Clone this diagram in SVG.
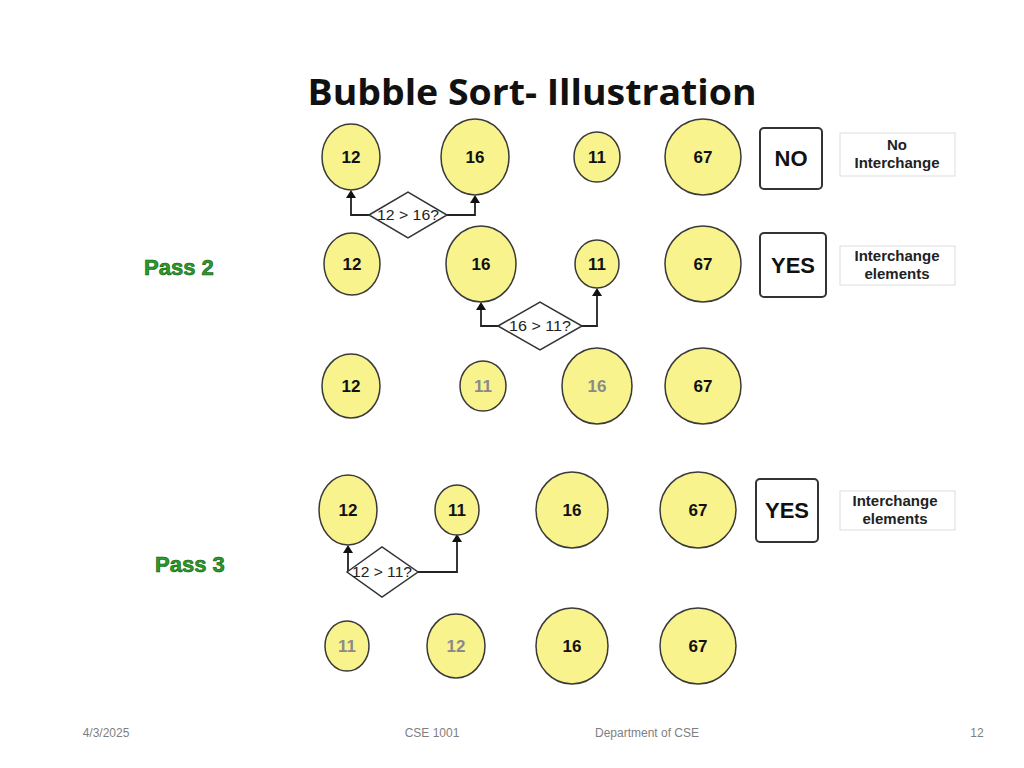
<svg xmlns="http://www.w3.org/2000/svg" width="1024" height="768" viewBox="0 0 1024 768">
<style>
.n ellipse{fill:#f8f38d;stroke:#3a3a3a;stroke-width:1.5}
.n text{font-family:"Liberation Sans",Arial,sans-serif;font-weight:bold;font-size:17px;text-anchor:middle;fill:#111}
.g text{fill:#8a8a8a}
.d polygon{fill:#fff;stroke:#333;stroke-width:1.5}
.d text{font-family:"Liberation Sans",Arial,sans-serif;font-size:15px;text-anchor:middle;fill:#222}
.b rect{fill:#fff;stroke:#333;stroke-width:2}
.b text{font-family:"Liberation Sans",Arial,sans-serif;font-weight:bold;font-size:22px;text-anchor:middle;fill:#111}
.l rect{fill:#fff;stroke:#ddd;stroke-width:1}
.l text{font-family:"Liberation Sans",Arial,sans-serif;font-weight:bold;font-size:15px;text-anchor:middle;fill:#222}
.p{font-family:"Liberation Sans",Arial,sans-serif;font-weight:bold;font-size:22px;fill:#2a9a2a;stroke:#0b5a0b;stroke-width:0.6}
.f{font-family:"Liberation Sans",Arial,sans-serif;font-size:12px;fill:#7f7f7f;text-anchor:middle}
#connectors path{fill:none;stroke:#222;stroke-width:1.8;marker-end:url(#ah)}
</style>
<defs><marker id="ah" markerWidth="8" markerHeight="10" refX="6" refY="5" orient="auto" markerUnits="userSpaceOnUse"><path d="M0,0 L8,5 L0,10 z" fill="#111"/></marker></defs>
<rect width="1024" height="768" fill="#fff"/>
<text x="532" y="105" text-anchor="middle" font-family="'Open Sans','Liberation Sans',sans-serif" font-weight="bold" font-size="36" textLength="449" lengthAdjust="spacingAndGlyphs" fill="#111">Bubble Sort- Illustration</text>
<text class="p" x="144" y="275">Pass 2</text>
<text class="p" x="155" y="572">Pass 3</text>

<g id="connectors">
<path d="M369,215 H351 V192"/><path d="M447,215 H475 V197"/>
<path d="M498,326 H481 V304"/><path d="M582,326 H597 V290"/>
<path d="M347,572 H348 V547"/><path d="M418,572 H457 V536"/>
</g>

<g id="r1a" class="n"><ellipse cx="351" cy="157" rx="29" ry="33"/><text x="351" y="163">12</text></g>
<g id="r1b" class="n"><ellipse cx="475" cy="157" rx="34" ry="38"/><text x="475" y="163">16</text></g>
<g id="r1c" class="n"><ellipse cx="597" cy="157" rx="23" ry="25"/><text x="597" y="163">11</text></g>
<g id="r1d" class="n"><ellipse cx="703" cy="157" rx="38" ry="38"/><text x="703" y="163">67</text></g>
<g id="no" class="b"><rect x="760" y="128" width="62" height="61" rx="4"/><text x="791" y="166">NO</text></g>
<g id="lab1" class="l"><rect x="840" y="133" width="115" height="43"/><text x="897" y="150">No</text><text x="897" y="168">Interchange</text></g>
<g id="d1" class="d"><polygon points="369,215 408,192 447,215 408,238"/><text x="408" y="220" textLength="62" lengthAdjust="spacingAndGlyphs">12 &gt; 16?</text></g>

<g id="r2a" class="n"><ellipse cx="352" cy="264" rx="28" ry="31"/><text x="352" y="270">12</text></g>
<g id="r2b" class="n"><ellipse cx="481" cy="264" rx="35" ry="38"/><text x="481" y="270">16</text></g>
<g id="r2c" class="n"><ellipse cx="597" cy="264" rx="22" ry="24"/><text x="597" y="270">11</text></g>
<g id="r2d" class="n"><ellipse cx="703" cy="264" rx="38" ry="38"/><text x="703" y="270">67</text></g>
<g id="yes1" class="b"><rect x="760" y="233" width="66" height="64" rx="4"/><text x="793" y="273">YES</text></g>
<g id="lab2" class="l"><rect x="840" y="246" width="115" height="39"/><text x="897" y="261">Interchange</text><text x="897" y="279">elements</text></g>
<g id="d2" class="d"><polygon points="498,326 540,302 582,326 540,350"/><text x="540" y="331" textLength="62" lengthAdjust="spacingAndGlyphs">16 &gt; 11?</text></g>

<g id="r3a" class="n"><ellipse cx="351" cy="386" rx="29" ry="32"/><text x="351" y="392">12</text></g>
<g id="r3b" class="n g"><ellipse cx="483" cy="386" rx="23" ry="25"/><text x="483" y="392">11</text></g>
<g id="r3c" class="n g"><ellipse cx="597" cy="386" rx="35" ry="38"/><text x="597" y="392">16</text></g>
<g id="r3d" class="n"><ellipse cx="703" cy="386" rx="38" ry="38"/><text x="703" y="392">67</text></g>

<g id="r4a" class="n"><ellipse cx="348" cy="510" rx="29" ry="35"/><text x="348" y="516">12</text></g>
<g id="r4b" class="n"><ellipse cx="457" cy="510" rx="22" ry="25"/><text x="457" y="516">11</text></g>
<g id="r4c" class="n"><ellipse cx="572" cy="510" rx="36" ry="38"/><text x="572" y="516">16</text></g>
<g id="r4d" class="n"><ellipse cx="698" cy="510" rx="38" ry="38"/><text x="698" y="516">67</text></g>
<g id="yes2" class="b"><rect x="756" y="479" width="62" height="63" rx="4"/><text x="787" y="518">YES</text></g>
<g id="lab3" class="l"><rect x="840" y="491" width="115" height="39"/><text x="895" y="506">Interchange</text><text x="895" y="524">elements</text></g>
<g id="d3" class="d"><polygon points="347,572 382,547 418,572 382,597"/><text x="382" y="577" textLength="60" lengthAdjust="spacingAndGlyphs">12 &gt; 11?</text></g>

<g id="r5a" class="n g"><ellipse cx="347" cy="646" rx="22" ry="25"/><text x="347" y="652">11</text></g>
<g id="r5b" class="n g"><ellipse cx="456" cy="646" rx="29" ry="32"/><text x="456" y="652">12</text></g>
<g id="r5c" class="n"><ellipse cx="572" cy="646" rx="36" ry="38"/><text x="572" y="652">16</text></g>
<g id="r5d" class="n"><ellipse cx="698" cy="646" rx="38" ry="38"/><text x="698" y="652">67</text></g>

<text class="f" x="106" y="737">4/3/2025</text>
<text class="f" x="432" y="737">CSE 1001</text>
<text class="f" x="647" y="737">Department of CSE</text>
<text class="f" x="977" y="737">12</text>
</svg>
